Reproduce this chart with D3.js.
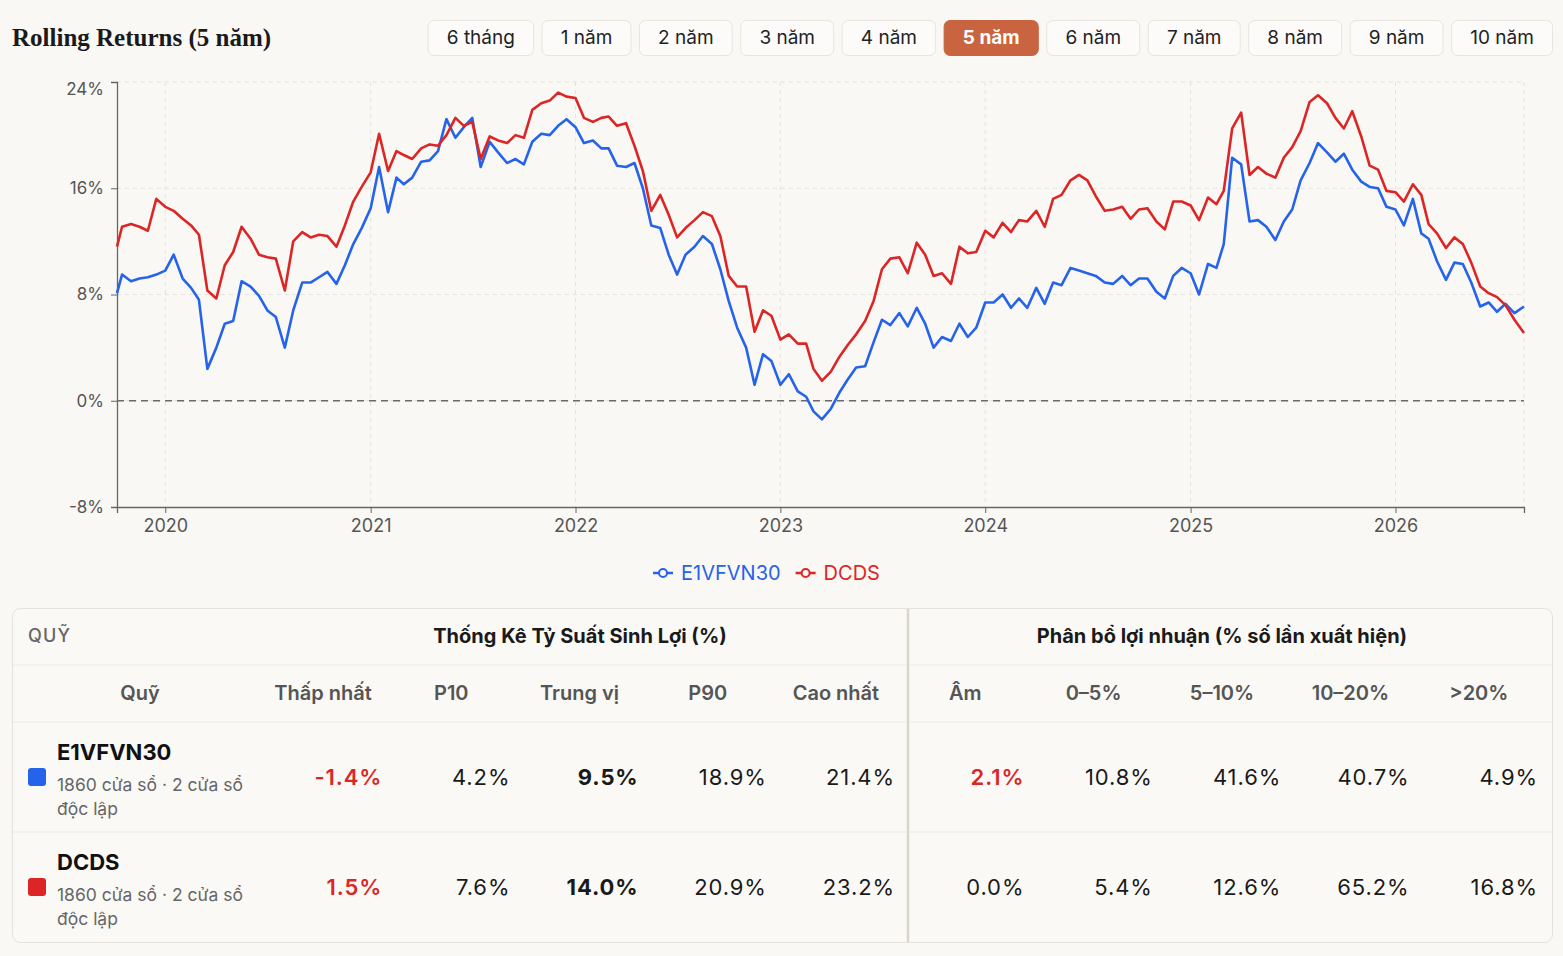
<!DOCTYPE html>
<html>
<head>
<meta charset="utf-8">
<title>Rolling Returns</title>
<script src="https://cdn.jsdelivr.net/npm/d3@7"></script>
<style>
	body {
		margin: 0;
		background: #faf8f5;
	}
	svg {
		display: block;
		font-family: Inter, "Noto Sans", sans-serif;
	}
	.grid line {
		stroke: #e6e2db;
		stroke-dasharray: 4 4;
	}
	.axis path, .axis line {
		stroke: #666;
	}
	.axis text {
		fill: #555;
		font-family: Inter, sans-serif;
	}
</style>
</head>
<body>
<svg id="page" width="1563" height="956"></svg>
<script>
// rolling 5-year return samples (%)
const dates = [
	"2019-10-07","2019-10-16","2019-11-01","2019-11-16","2019-12-01","2019-12-16",
	"2020-01-01","2020-01-16","2020-02-01","2020-02-16","2020-03-01","2020-03-16","2020-04-01","2020-04-16","2020-05-01","2020-05-16","2020-06-01","2020-06-16",
	"2020-07-01","2020-07-16","2020-08-01","2020-08-16","2020-09-01","2020-09-16","2020-10-01","2020-10-16","2020-11-01","2020-11-16","2020-12-01","2020-12-16",
	"2021-01-01","2021-01-16","2021-02-01","2021-02-16","2021-03-01","2021-03-16","2021-04-01","2021-04-16","2021-05-01","2021-05-16","2021-06-01","2021-06-16",
	"2021-07-01","2021-07-16","2021-08-01","2021-08-16","2021-09-01","2021-09-16","2021-10-01","2021-10-16","2021-11-01","2021-11-16","2021-12-01","2021-12-16",
	"2022-01-01","2022-01-16","2022-02-01","2022-02-16","2022-03-01","2022-03-16","2022-04-01","2022-04-16","2022-05-01","2022-05-16","2022-06-01","2022-06-16",
	"2022-07-01","2022-07-16","2022-08-01","2022-08-16","2022-09-01","2022-09-16","2022-10-01","2022-10-16","2022-11-01","2022-11-16","2022-12-01","2022-12-16",
	"2023-01-01","2023-01-16","2023-02-01","2023-02-16","2023-03-01","2023-03-16","2023-04-01","2023-04-16","2023-05-01","2023-05-16","2023-06-01","2023-06-16",
	"2023-07-01","2023-07-16","2023-08-01","2023-08-16","2023-09-01","2023-09-16","2023-10-01","2023-10-16","2023-11-01","2023-11-16","2023-12-01","2023-12-16",
	"2024-01-01","2024-01-16","2024-02-01","2024-02-16","2024-03-01","2024-03-16","2024-04-01","2024-04-16","2024-05-01","2024-05-16","2024-06-01","2024-06-16",
	"2024-07-01","2024-07-16","2024-08-01","2024-08-16","2024-09-01","2024-09-16","2024-10-01","2024-10-16","2024-11-01","2024-11-16","2024-12-01","2024-12-16",
	"2025-01-01","2025-01-16","2025-02-01","2025-02-16","2025-03-01","2025-03-16","2025-04-01","2025-04-16","2025-05-01","2025-05-16","2025-06-01","2025-06-16",
	"2025-07-01","2025-07-16","2025-08-01","2025-08-16","2025-09-01","2025-09-16","2025-10-01","2025-10-16","2025-11-01","2025-11-16","2025-12-01","2025-12-16",
	"2026-01-01","2026-01-16","2026-02-01","2026-02-16","2026-03-01","2026-03-16","2026-04-01","2026-04-16","2026-05-01","2026-05-16","2026-06-01","2026-06-16",
	"2026-07-01","2026-07-16","2026-08-01","2026-08-18"
];

const e1vfvn30 = [
	8.1, 9.5, 9.0, 9.2, 9.3, 9.5,
	9.8, 11.0, 9.2, 8.5, 7.6, 2.4, 4.0, 5.8, 6.0, 9.0, 8.6, 7.9,
	6.8, 6.3, 4.0, 6.8, 8.9, 8.9, 9.3, 9.7, 8.8, 10.2, 11.8, 13.0,
	14.5, 17.6, 14.2, 16.8, 16.3, 16.8, 18.0, 18.1, 18.8, 21.2, 19.8, 20.6,
	21.3, 17.6, 19.5, 18.7, 17.9, 18.2, 17.8, 19.5, 20.1, 20.0, 20.7, 21.2,
	20.6, 19.4, 19.6, 19.0, 19.0, 17.7, 17.6, 17.9, 16.0, 13.2, 13.0, 11.0,
	9.5, 11.0, 11.6, 12.4, 11.8, 9.9, 7.5, 5.5, 4.0, 1.2, 3.5, 3.0,
	1.2, 2.0, 0.7, 0.3, -0.8, -1.4, -0.6, 0.6, 1.6, 2.5, 2.6, 4.4,
	6.1, 5.7, 6.6, 5.6, 7.0, 5.8, 4.0, 4.8, 4.5, 5.8, 4.8, 5.5,
	7.4, 7.4, 8.0, 7.0, 7.7, 7.0, 8.5, 7.3, 8.9, 8.7, 10.0, 9.8,
	9.6, 9.4, 8.9, 8.8, 9.4, 8.7, 9.2, 9.2, 8.2, 7.7, 9.4, 10.0,
	9.6, 8.0, 10.3, 10.0, 11.8, 18.3, 17.8, 13.5, 13.6, 13.1, 12.1, 13.5,
	14.4, 16.6, 17.9, 19.4, 18.7, 18.0, 18.6, 17.4, 16.5, 16.1, 16.0, 14.6,
	14.4, 13.2, 15.2, 12.6, 12.2, 10.5, 9.1, 10.4, 10.3, 8.9, 7.1, 7.4,
	6.7, 7.3, 6.6, 7.1
];

const dcds = [
	11.6, 13.1, 13.3, 13.1, 12.8, 15.2,
	14.6, 14.3, 13.7, 13.2, 12.5, 8.3, 7.7, 10.2, 11.2, 13.1, 12.2, 11.0,
	10.8, 10.7, 8.3, 12.0, 12.7, 12.3, 12.5, 12.4, 11.6, 13.2, 15.0, 16.1,
	17.2, 20.1, 17.3, 18.8, 18.5, 18.2, 19.0, 19.3, 19.2, 20.0, 21.3, 20.7,
	21.0, 18.2, 19.9, 19.6, 19.4, 20.0, 19.8, 21.9, 22.4, 22.6, 23.2, 22.9,
	22.8, 21.3, 21.0, 21.3, 21.4, 20.7, 20.9, 19.2, 17.3, 14.3, 15.5, 14.0,
	12.3, 13.0, 13.6, 14.2, 13.9, 12.4, 9.4, 8.6, 8.6, 5.2, 6.8, 6.4,
	4.6, 5.0, 4.3, 4.3, 2.4, 1.5, 2.2, 3.3, 4.2, 5.0, 6.0, 7.5,
	9.9, 10.7, 10.8, 9.6, 11.9, 11.0, 9.4, 9.6, 8.8, 11.6, 11.1, 11.2,
	12.8, 12.3, 13.4, 12.7, 13.6, 13.5, 14.3, 13.1, 15.2, 15.5, 16.6, 17.0,
	16.6, 15.4, 14.3, 14.4, 14.6, 13.7, 14.4, 14.5, 13.5, 12.9, 15.0, 15.0,
	14.7, 13.6, 15.3, 14.8, 15.8, 20.5, 21.7, 17.0, 17.6, 17.1, 16.8, 18.3,
	19.1, 20.3, 22.5, 23.0, 22.4, 21.3, 20.5, 21.8, 19.9, 17.7, 17.4, 15.8,
	15.7, 15.0, 16.3, 15.5, 13.3, 12.6, 11.5, 12.3, 11.8, 10.4, 8.6, 8.1,
	7.8, 7.2, 6.1, 5.1
];

const periods = ["6 tháng", "1 năm", "2 năm", "3 năm", "4 năm", "5 năm", "6 năm", "7 năm", "8 năm", "9 năm", "10 năm"];
const activePeriod = "5 năm";
const yTicks = [-8, 0, 8, 16, 24];
const yearTicks = [2020, 2021, 2022, 2023, 2024, 2025, 2026];

const funds = ["E1VFVN30", "DCDS"];
const windowCounts = [1860, 1860];
const independentWindows = [2, 2];
const statCols = ["Thấp nhất", "P10", "Trung vị", "P90", "Cao nhất"];
const distCols = ["Âm", "0–5%", "5–10%", "10–20%", ">20%"];
const statsE1 = [-1.4, 4.2, 9.5, 18.9, 21.4];
const statsDCDS = [1.5, 7.6, 14.0, 20.9, 23.2];
const distE1 = [2.1, 10.8, 41.6, 40.7, 4.9];
const distDCDS = [0.0, 5.4, 12.6, 65.2, 16.8];

const colors = {E1VFVN30: '#2563eb', DCDS: '#dc2626'};
const series = [
	{name: "E1VFVN30", values: e1vfvn30},
	{name: "DCDS", values: dcds},
];

const svg = d3.select('#page');
const parse = d3.timeParse('%Y-%m-%d');
const dd = dates.map(parse);

// title + period buttons
svg.append('text')
	.attr('x', 12).attr('y', 46)
	.style('font-family', '"Liberation Serif", "DejaVu Serif", serif')
	.style('font-weight', 700).style('font-size', '25px')
	.attr('fill', '#1a1a1a')
	.text('Rolling Returns (5 năm)');

const btns = svg.append('g');
const btnItems = periods.map(p => {
	const g = btns.append('g');
	const t = g.append('text').text(p)
		.attr('y', 44)
		.attr('text-anchor', 'middle')
		.style('font-size', '19px')
		.style('font-weight', p == activePeriod ? 700 : 400)
		.attr('fill', p == activePeriod ? '#fff' : '#222');
	return {p, g, t, w: t.node().getComputedTextLength() + 38.3};
});
let bx = 1553 - d3.sum(btnItems, d => d.w) - 7.5 * (btnItems.length - 1);
btnItems.forEach(d => {
	d.g.insert('rect', 'text')
		.attr('x', bx + 0.5).attr('y', 20.5)
		.attr('width', d.w - 1).attr('height', 35)
		.attr('rx', 6)
		.attr('fill', d.p == activePeriod ? '#c8643f' : '#fcfbf9')
		.attr('stroke', d.p == activePeriod ? '#c8643f' : '#e8e4de');
	d.t.attr('x', bx + d.w / 2);
	bx += d.w + 7.5;
});

// chart
const mLeft = 117, mRight = 1524, mTop = 82, mBottom = 507;
const x = d3.scaleTime().domain(d3.extent(dd)).range([mLeft, mRight]);
const y = d3.scaleLinear().domain([-8, 24]).range([mBottom, mTop]);

const grid = svg.append('g').attr('class', 'grid');
grid.selectAll('.gy').data(yTicks.filter(v => v > -8)).join('line')
	.attr('class', 'gy')
	.attr('x1', mLeft).attr('x2', mRight)
	.attr('y1', d => y(d)).attr('y2', d => y(d));
grid.selectAll('.gx').data(yearTicks.map(v => new Date(v, 0, 1))).join('line')
	.attr('class', 'gx')
	.attr('x1', d => x(d)).attr('x2', d => x(d))
	.attr('y1', mTop).attr('y2', mBottom);
grid.append('line')
	.attr('x1', mRight).attr('x2', mRight)
	.attr('y1', mTop).attr('y2', mBottom);

const yAxis = svg.append('g').attr('class', 'axis')
	.attr('transform', `translate(${mLeft},0)`)
	.call(d3.axisLeft(y).tickValues(yTicks).tickFormat(d => d + '%').tickSize(6).tickPadding(7));
yAxis.selectAll('text').style('font-size', '17px');
yAxis.selectAll('.tick').filter(d => d == 24).select('text').attr('dy', '0.75em');
yAxis.select('.domain').attr('stroke-width', 1.3);

const xAxis = svg.append('g').attr('class', 'axis')
	.attr('transform', `translate(0,${mBottom})`)
	.call(d3.axisBottom(x).tickValues(yearTicks.map(v => new Date(v, 0, 1))).tickFormat(d3.timeFormat('%Y')).tickSize(6).tickPadding(6));
xAxis.selectAll('text').style('font-size', '18px');
xAxis.select('.domain').attr('stroke-width', 1.3);

svg.append('line')
	.attr('x1', mLeft).attr('x2', mRight)
	.attr('y1', y(0)).attr('y2', y(0))
	.attr('stroke', '#6b6b6b').attr('stroke-width', 1.6)
	.attr('stroke-dasharray', '7 5');

const line = d3.line()
	.x((d, i) => x(dd[i]))
	.y(d => y(d));

svg.append('g').selectAll('path').data(series).join('path')
	.attr('d', d => line(d.values))
	.attr('fill', 'none')
	.attr('stroke', d => colors[d.name])
	.attr('stroke-width', 2.6)
	.attr('stroke-linejoin', 'round');

// legend
const legend = svg.append('g');
let lx = 653;
series.forEach(s => {
	const g = legend.append('g');
	g.append('line').attr('x1', lx).attr('x2', lx + 20).attr('y1', 573).attr('y2', 573)
		.attr('stroke', colors[s.name]).attr('stroke-width', 2.5);
	g.append('circle').attr('cx', lx + 10).attr('cy', 573).attr('r', 4)
		.attr('fill', '#faf8f5').attr('stroke', colors[s.name]).attr('stroke-width', 2);
	const t = g.append('text').attr('x', lx + 28).attr('y', 580)
		.style('font-size', '20px').attr('fill', colors[s.name]).text(s.name);
	lx += 28 + t.node().getComputedTextLength() + 15;
});

// stats table
const tbl = svg.append('g');
tbl.append('rect')
	.attr('x', 12.5).attr('y', 608.5).attr('width', 1540).attr('height', 334).attr('rx', 8)
	.attr('fill', '#faf9f6').attr('stroke', '#e6e2db');
[665, 722, 832].forEach(v => tbl.append('line')
	.attr('x1', 13).attr('x2', 1552).attr('y1', v).attr('y2', v)
	.attr('stroke', '#efebe5'));
tbl.append('line')
	.attr('x1', 908).attr('x2', 908).attr('y1', 609).attr('y2', 942)
	.attr('stroke', '#d9d4cc').attr('stroke-width', 2.5);

tbl.append('text').attr('x', 28).attr('y', 642)
	.style('font-size', '18px').style('font-weight', 500).style('letter-spacing', '1.2px')
	.attr('fill', '#666').text('QUỸ');
tbl.append('text').attr('x', 580).attr('y', 643).attr('text-anchor', 'middle')
	.style('font-size', '20px').style('font-weight', 700).attr('fill', '#1a1a1a')
	.text('Thống Kê Tỷ Suất Sinh Lợi (%)');
tbl.append('text').attr('x', 1222).attr('y', 643).attr('text-anchor', 'middle')
	.style('font-size', '20px').style('font-weight', 700).attr('fill', '#1a1a1a')
	.text('Phân bổ lợi nhuận (% số lần xuất hiện)');

const sx = d3.scaleBand().domain(statCols).range([266, 907]);
const dx = d3.scaleBand().domain(distCols).range([908, 1550]);

const head = (label, cx) => tbl.append('text')
	.attr('x', cx).attr('y', 700).attr('text-anchor', 'middle')
	.style('font-size', '20px').style('font-weight', 600).attr('fill', '#555')
	.text(label);
head('Quỹ', 140);
statCols.forEach(c => head(c, sx(c) + sx.bandwidth() / 2 - 7));
distCols.forEach(c => head(c, dx(c) + dx.bandwidth() / 2 - 7));

const rows = [
	{stats: statsE1, dist: distE1, y0: 722},
	{stats: statsDCDS, dist: distDCDS, y0: 832},
];
rows.forEach((r, i) => {
	const name = funds[i];
	tbl.append('rect').attr('x', 28).attr('y', r.y0 + 46).attr('width', 18).attr('height', 18).attr('rx', 3)
		.attr('fill', colors[name]);
	tbl.append('text').attr('x', 57).attr('y', r.y0 + 38)
		.style('font-size', '22px').style('font-weight', 700).attr('fill', '#111').text(name);
	tbl.append('text').attr('x', 57).attr('y', r.y0 + 69)
		.style('font-size', '17.5px').attr('fill', '#666')
		.text(`${windowCounts[i]} cửa sổ · ${independentWindows[i]} cửa sổ`);
	tbl.append('text').attr('x', 57).attr('y', r.y0 + 93)
		.style('font-size', '17.5px').attr('fill', '#666').text('độc lập');

	const cell = (v, xr, color, weight) => tbl.append('text')
		.attr('x', xr).attr('y', r.y0 + 63).attr('text-anchor', 'end')
		.style('font-size', '22px').style('font-weight', weight).style('letter-spacing', '0.9px')
		.attr('fill', color).text(v.toFixed(1) + '%');
	r.stats.forEach((v, j) => {
		const c = statCols[j];
		cell(v, sx(c) + sx.bandwidth() - 12,
			j == 0 ? '#dc2626' : '#1a1a1a',
			j == 0 ? 600 : (j == 2 ? 700 : 400));
	});
	r.dist.forEach((v, j) => {
		const c = distCols[j];
		const neg = j == 0 && v > 0;
		cell(v, dx(c) + dx.bandwidth() - 12, neg ? '#dc2626' : '#1a1a1a', neg ? 600 : 400);
	});
});
</script>
</body>
</html>
